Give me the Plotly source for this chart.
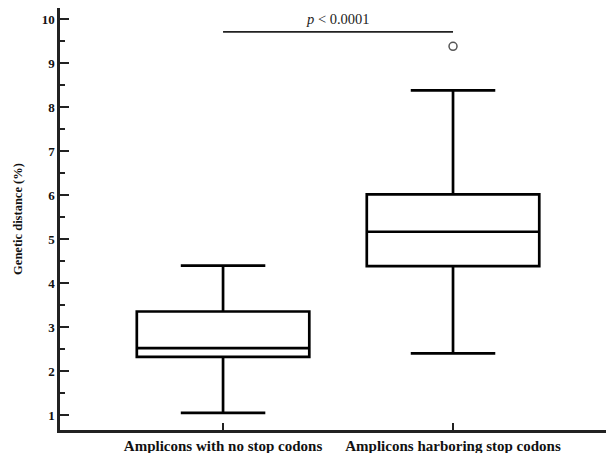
import plotly.graph_objects as go

categories = ["Amplicons with no stop codons", "Amplicons harboring stop codons"]
cat_pos = [0, 1]
q1 = [2.33, 4.39]
median = [2.53, 5.17]
q3 = [3.36, 6.02]
lower_whisker = [1.06, 2.41]
upper_whisker = [4.40, 8.38]
outlier_x = [1]
outlier_y = [9.38]
y_ticks = [1, 2, 3, 4, 5, 6, 7, 8, 9, 10]
sig_y = 9.71
sig_text_y = 10.0

serif = "Liberation Serif"

fig = go.Figure()
fig.add_trace(go.Box(
    x=cat_pos, q1=q1, median=median, q3=q3,
    lowerfence=lower_whisker, upperfence=upper_whisker,
    width=0.75, whiskerwidth=0.49,
    line=dict(color="black", width=2.7), fillcolor="white",
    boxpoints=False, showlegend=False, hoverinfo="skip",
))
fig.add_trace(go.Scatter(
    x=outlier_x, y=outlier_y, mode="markers",
    marker=dict(symbol="circle-open", size=8, color="#555", line=dict(width=1.5)),
    showlegend=False,
))
fig.add_shape(type="line", xref="x", yref="y", x0=cat_pos[0], x1=cat_pos[1],
              y0=sig_y, y1=sig_y, line=dict(color="#222", width=1.8))
fig.add_annotation(x=(cat_pos[0] + cat_pos[1]) / 2, y=sig_text_y, xref="x", yref="y",
                   text="<i>p</i> < 0.0001", showarrow=False,
                   font=dict(family=serif, size=14.5, color="#222"))

fig.update_layout(
    width=606, height=445,
    margin=dict(l=52, r=0, t=0, b=23),
    plot_bgcolor="white", paper_bgcolor="white",
    xaxis=dict(
        range=[-0.709, 1.70], tickvals=cat_pos, ticktext=categories,
        ticks="inside", ticklen=7, tickwidth=2, tickcolor="#222",
        showline=True, linewidth=2.5, linecolor="#222",
        showgrid=False, zeroline=False,
        tickfont=dict(family=serif, size=15, color="#111", weight="bold"),
    ),
    yaxis=dict(
        range=[0.67, 10.25], tickvals=y_ticks,
        ticks="inside", ticklen=9, tickwidth=2, tickcolor="#222",
        minor=dict(ticks="inside", ticklen=5, tickwidth=1.5, tickcolor="#222", dtick=0.5, tick0=0.5),
        showline=True, linewidth=2.5, linecolor="#222",
        showgrid=False, zeroline=False,
        tickfont=dict(family=serif, size=13, color="#111", weight="bold"),
        title=dict(text="Genetic distance (%)", standoff=17,
                   font=dict(family=serif, size=12.5, color="#111", weight="bold")),
    ),
)

fig.write_html("out.html")
